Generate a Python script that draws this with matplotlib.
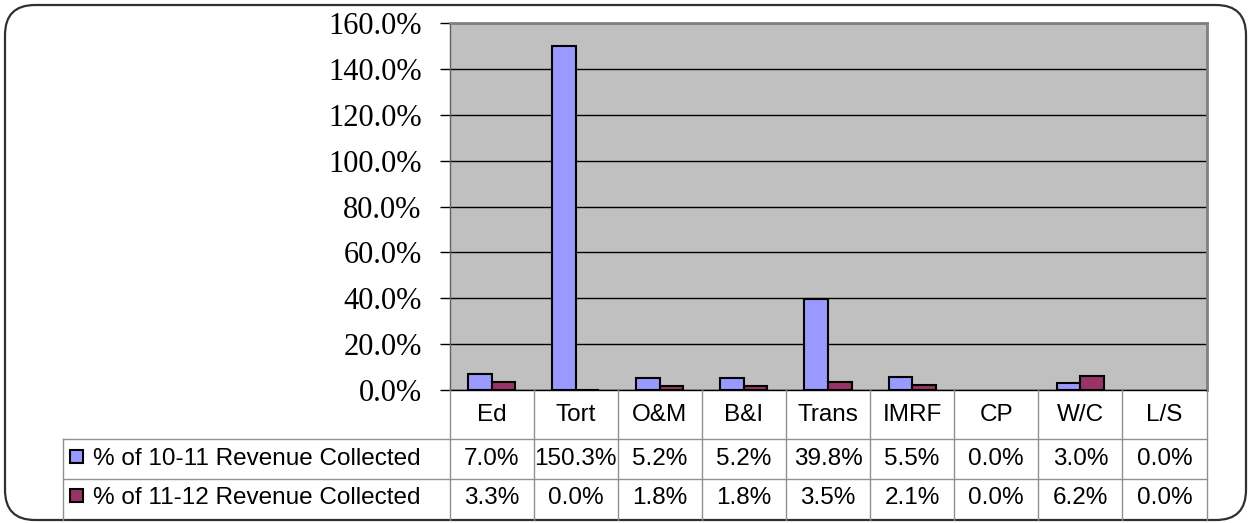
import matplotlib
matplotlib.use("Agg")
import matplotlib.pyplot as plt
import numpy as np
from matplotlib.patches import FancyBboxPatch, Rectangle
from matplotlib.lines import Line2D
from matplotlib.transforms import blended_transform_factory
from matplotlib.ticker import FuncFormatter

categories = ["Ed", "Tort", "O&M", "B&I", "Trans", "IMRF", "CP", "W/C", "L/S"]
series_names = ["% of 10-11 Revenue Collected", "% of 11-12 Revenue Collected"]
rev_10_11 = [7.0, 150.3, 5.2, 5.2, 39.8, 5.5, 0.0, 3.0, 0.0]
rev_11_12 = [3.3, 0.04, 1.8, 1.8, 3.5, 2.1, 0.0, 6.2, 0.0]
colors = ["#9999FF", "#993366"]
yticks = [0, 20, 40, 60, 80, 100, 120, 140, 160]

W, H = 1251, 523
fig = plt.figure(figsize=(W / 100, H / 100), dpi=100)

def fx(px):
    return px / W

def fy(py):
    return 1 - py / H

# Rounded outer border
border = FancyBboxPatch((5 / 100, (H - 520) / 100), (1246 - 5) / 100, (520 - 5) / 100,
                        boxstyle="round,pad=0,rounding_size=0.3",
                        transform=fig.dpi_scale_trans, facecolor="white",
                        edgecolor="#303030", linewidth=1.6, zorder=0)
fig.add_artist(border)

left, right, top, bottom = 449.5, 1206.5, 23.3, 390
ax = fig.add_axes([fx(left), fy(bottom), fx(right - left), fy(top) - fy(bottom)])
ax.set_facecolor("#C0C0C0")

x = np.arange(len(categories))
bw = 0.28
for vals, off, col in [(rev_10_11, -bw / 2, colors[0]), (rev_11_12, bw / 2, colors[1])]:
    lws = [1.5 if v > 0 else 0 for v in vals]
    ax.bar(x + off, vals, width=bw, color=col, edgecolor="black", linewidth=lws, zorder=3)

ax.set_xlim(-0.5, len(categories) - 0.5)
ax.set_ylim(0, 160)
ax.set_yticks(yticks)
ax.yaxis.set_major_formatter(FuncFormatter(lambda v, p: f"{v:.1f}%"))
ax.yaxis.grid(True, color="black", linewidth=1)
ax.set_axisbelow(True)
ax.set_xticks([])
ax.tick_params(axis="y", length=7, width=1, color="black", pad=13)
for lab in ax.get_yticklabels():
    lab.set_fontfamily("Liberation Serif")
    lab.set_fontsize(22)
for s in ["top", "right"]:
    ax.spines[s].set_color("#808080")
    ax.spines[s].set_linewidth(2)
ax.spines["left"].set_color("#606060")
ax.spines["left"].set_linewidth(1)
ax.spines["bottom"].set_color("black")
ax.spines["bottom"].set_linewidth(1)

# Table
tf = blended_transform_factory(ax.transData, fig.transFigure)
tab_left = 62.7
row_lines = [439.3, 479.3]
tab_bottom = 520
grid_col = "#909090"
for i in range(len(categories) + 1):
    fig.add_artist(Line2D([i - 0.5, i - 0.5], [fy(bottom), fy(tab_bottom)], transform=tf,
                          color=grid_col, linewidth=1, zorder=2))
fig.add_artist(Line2D([fx(tab_left), fx(tab_left)], [fy(row_lines[0]), fy(tab_bottom)],
                      transform=fig.transFigure, color=grid_col, linewidth=1, zorder=2))
for ry in row_lines:
    fig.add_artist(Line2D([fx(tab_left), fx(right)], [fy(ry), fy(ry)],
                          transform=fig.transFigure, color=grid_col, linewidth=1, zorder=2))

font = "Liberation Sans"
fs = 17.5
header_y, r1_y, r2_y = 415, 459, 498
for i, c in enumerate(categories):
    fig.text(i, fy(header_y), c, transform=tf, ha="center", va="center", fontfamily=font, fontsize=fs)
    fig.text(i, fy(r1_y), f"{rev_10_11[i]:.1f}%", transform=tf, ha="center", va="center", fontfamily=font, fontsize=fs)
    fig.text(i, fy(r2_y), f"{rev_11_12[i]:.1f}%", transform=tf, ha="center", va="center", fontfamily=font, fontsize=fs)

for name, col, ry in zip(series_names, colors, [r1_y, r2_y]):
    fig.add_artist(Rectangle((fx(70), fy(ry + 4)), fx(13), fy(0) - fy(13), transform=fig.transFigure,
                             facecolor=col, edgecolor="black", linewidth=1.5))
    fig.text(fx(93), fy(ry), name, ha="left", va="center", fontfamily=font, fontsize=fs)

fig.savefig("out.png", dpi=100)
